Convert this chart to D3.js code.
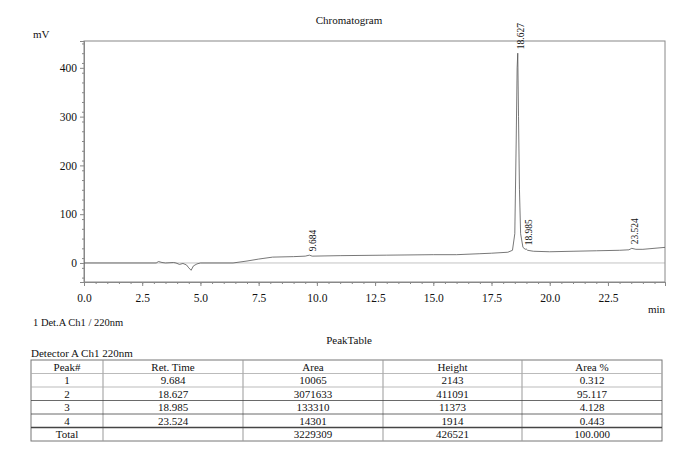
<!DOCTYPE html><html><head><script src="https://cdn.jsdelivr.net/npm/d3@7"></script>
<style>body{margin:0;background:#fff}svg text{font-family:"Liberation Serif","Times New Roman","DejaVu Serif",serif !important;fill:#111}</style></head><body>
<svg id="c" width="700" height="454"></svg>
<script>
const traceTime=[0,3.1,3.2,3.35,3.5,3.85,3.95,4.1,4.25,4.4,4.5,4.6,4.7,4.85,5.0,6.4,7.0,7.5,8.1,9.0,9.5,9.68,9.8,11,13,15,16,17,17.5,18.2,18.4,18.5,18.56,18.6,18.627,18.66,18.7,18.75,18.85,18.95,18.985,19.05,19.3,20,21,22,23,23.4,23.524,23.7,24,24.95];
const traceMV=[0,0,3,1,0,1,0,-3,-1,-4,-10,-15,-6,-2,0,0,4,8,12,13,14,16,14,15,16,17,17,19,20,22,26,60,250,400,430,300,150,60,32,28,29,26,24,23,24,25,26,27,30,28,28,32];
const peakTimes=[9.684,18.627,18.985,23.524];
const peakLabelMV=[16,430,28,30];
const yTicks=[0,100,200,300,400];
const xTicks=[0,2.5,5,7.5,10,12.5,15,17.5,20,22.5];
const tableHeader=["Peak#","Ret. Time","Area","Height","Area %"];
const tableRows=[["1","9.684","10065","2143","0.312"],["2","18.627","3071633","411091","95.117"],["3","18.985","133310","11373","4.128"],["4","23.524","14301","1914","0.443"],["Total","","3229309","426521","100.000"]];

const svg=d3.select("#c");
const L=84,R=665,T=41,B=282;
const x=d3.scaleLinear().domain([0,24.95]).range([L,R]);
const y=d3.scaleLinear().domain([-39,455]).range([B,T]);
svg.append("text").attr("x",349).attr("y",24).attr("text-anchor","middle").attr("font-size",11).text("Chromatogram");
svg.append("text").attr("x",33).attr("y",38).attr("font-size",11).text("mV");
svg.append("text").attr("x",648).attr("y",313).attr("font-size",11).text("min");
svg.append("rect").attr("x",L).attr("y",T).attr("width",R-L).attr("height",B-T).attr("fill","none").attr("stroke","#888");
svg.append("g").attr("transform",`translate(${L},0)`).call(d3.axisLeft(y).tickValues(yTicks).tickSize(4).tickFormat(d3.format("d")));
svg.append("g").attr("transform",`translate(${L},0)`).call(d3.axisLeft(y).tickValues(d3.range(-30,451,20)).tickSize(2).tickFormat(""));
const xa=svg.append("g").attr("transform",`translate(0,${B})`).call(d3.axisBottom(x).tickValues(xTicks).tickSize(4).tickFormat(d3.format(".1f")));
svg.append("g").attr("transform",`translate(0,${B})`).call(d3.axisBottom(x).tickValues(d3.range(0,25,0.5)).tickSize(2).tickFormat(""));
svg.selectAll(".domain").attr("stroke","#888");svg.selectAll(".tick line").attr("stroke","#888");
svg.selectAll(".tick text").attr("font-size",11.5).attr("fill","#111");
xa.selectAll(".tick text").attr("dy","1.1em");
svg.append("line").attr("x1",L).attr("x2",R).attr("y1",y(0)).attr("y2",y(0)).attr("stroke","#999").attr("stroke-width",0.6);
svg.append("path").datum(traceTime.map((t,i)=>[t,traceMV[i]])).attr("fill","none").attr("stroke","#555").attr("stroke-width",0.8)
 .attr("d",d3.line().x(d=>x(d[0])).y(d=>y(d[1])));
peakTimes.forEach((t,i)=>{
 const px=x(t)+3,py=y(peakLabelMV[i])-4;
 svg.append("text").attr("transform",`translate(${px},${py}) rotate(-90)`).attr("font-size",9.5).attr("dy","0.35em").text(t.toFixed(3));
});
svg.append("text").attr("x",33).attr("y",326).attr("font-size",10.5).text("1 Det.A Ch1 / 220nm");
svg.append("text").attr("x",349).attr("y",344).attr("text-anchor","middle").attr("font-size",11).text("PeakTable");
svg.append("text").attr("x",31).attr("y",357).attr("font-size",11).text("Detector A Ch1 220nm");
const cols=[31,103,243,383,522,662],rt=360,rh=13.5;
const g=svg.append("g");
g.append("rect").attr("x",cols[0]).attr("y",rt).attr("width",cols[5]-cols[0]).attr("height",rh*6).attr("fill","none").attr("stroke","#777");
cols.slice(1,5).forEach(c=>g.append("line").attr("x1",c).attr("x2",c).attr("y1",rt).attr("y2",rt+rh*6).attr("stroke","#999"));
for(let r=1;r<6;r++)g.append("line").attr("x1",cols[0]).attr("x2",cols[5]).attr("y1",rt+rh*r).attr("y2",rt+rh*r).attr("stroke",r>=3?"#444":"#aaa").attr("stroke-width",r==5?1.5:0.8);
[tableHeader,...tableRows].forEach((row,r)=>row.forEach((v,c)=>g.append("text").attr("x",(cols[c]+cols[c+1])/2).attr("y",rt+rh*r+rh/2).attr("dy","0.35em").attr("text-anchor","middle").attr("font-size",11).text(v)));
</script></body></html>
